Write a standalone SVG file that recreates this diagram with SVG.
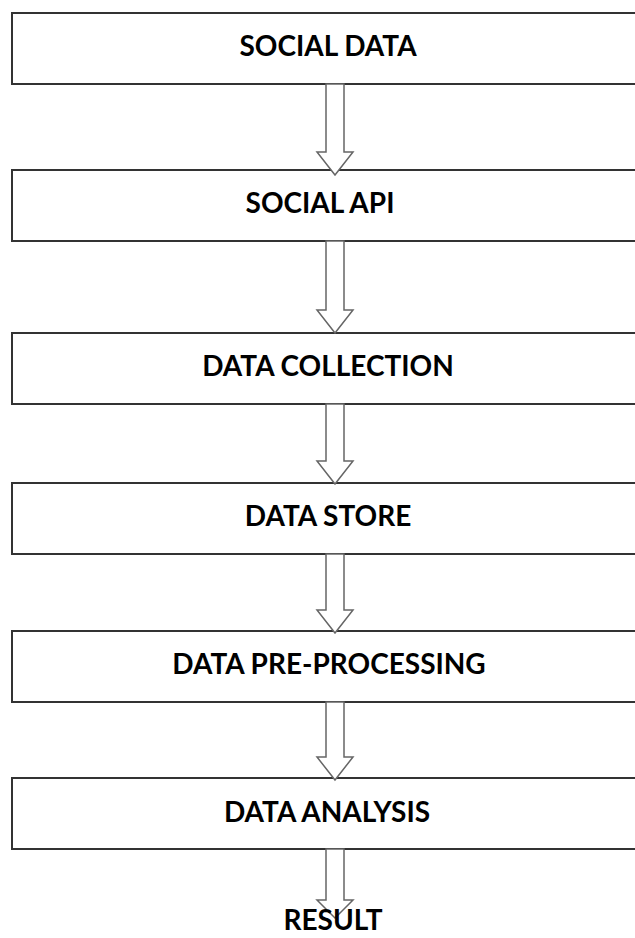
<svg xmlns="http://www.w3.org/2000/svg" width="635" height="938" viewBox="0 0 635 938">
<style>
.box{fill:#fff;stroke:#333;stroke-width:2}
.arr{fill:#fff;stroke:#666;stroke-width:1.5;stroke-linejoin:miter}
.lbl{font-family:Lato,"Liberation Sans",sans-serif;font-weight:bold;font-size:28px;fill:#000;text-anchor:middle}
</style>
<rect width="635" height="938" fill="#fff"/>
<g id="n1"><rect class="box" x="12" y="13" width="630" height="71"/><text class="lbl" x="328" y="56">SOCIAL DATA</text></g>
<g id="n2"><rect class="box" x="12" y="170" width="630" height="71"/><text class="lbl" x="320" y="213">SOCIAL API</text></g>
<g id="n3"><rect class="box" x="12" y="333" width="630" height="71"/><text class="lbl" x="328" y="376">DATA COLLECTION</text></g>
<g id="n4"><rect class="box" x="12" y="483" width="630" height="71"/><text class="lbl" x="328" y="526">DATA STORE</text></g>
<g id="n5"><rect class="box" x="12" y="631" width="630" height="71"/><text class="lbl" x="329" y="674">DATA PRE-PROCESSING</text></g>
<g id="n6"><rect class="box" x="12" y="778" width="630" height="71"/><text class="lbl" x="327" y="822">DATA ANALYSIS</text></g>
<g id="connectors">
<path class="arr" d="M326,84 H344 V152 H353 L335,175 L317,152 H326 Z"/>
<path class="arr" d="M326,241 H344 V310 H353 L335,333 L317,310 H326 Z"/>
<path class="arr" d="M326,404 H344 V461 H353 L335,484 L317,461 H326 Z"/>
<path class="arr" d="M326,554 H344 V610 H353 L335,633 L317,610 H326 Z"/>
<path class="arr" d="M326,702 H344 V757 H353 L335,780 L317,757 H326 Z"/>
<path class="arr" d="M326,849 H344 V900 H353 L335,918 L317,900 H326 Z"/>
</g>
<g id="n7"><text class="lbl" x="333" y="930">RESULT</text></g>
</svg>
